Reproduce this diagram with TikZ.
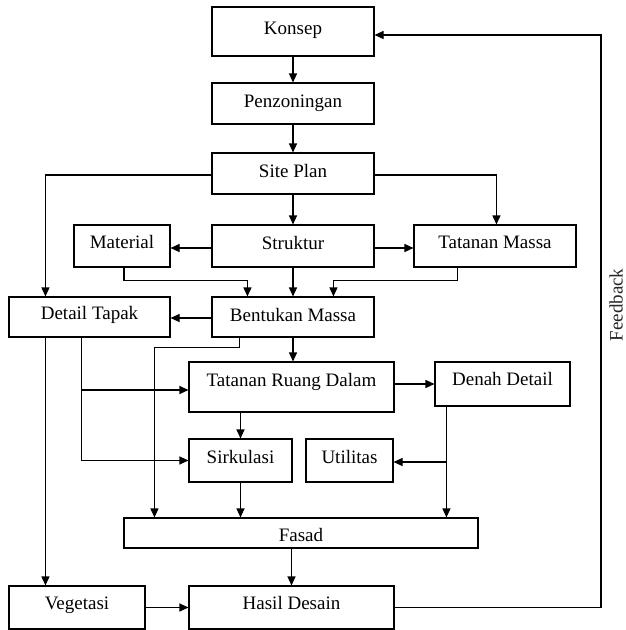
\documentclass[tikz,border=0pt]{standalone}
\usepackage{fontspec}
\setmainfont{Liberation Serif}
\usetikzlibrary{arrows.meta,calc}
\begin{document}
\begin{tikzpicture}[x=1pt,y=-1pt,
  box/.style={draw, line width=1.1pt, inner sep=0pt},
  arr/.style={line width=1.1pt, -{Triangle[length=9pt,width=8pt]}},
  font=\fontsize{19}{21}\selectfont]
\useasboundingbox (0,0) rectangle (626,630);
% boxes
\node[box, minimum width=162pt, minimum height=49pt, label={[yshift=1pt]center:Konsep}] (k) at (293,31.5) {};
\node[box, minimum width=162pt, minimum height=41pt, label={[yshift=0pt]center:Penzoningan}] (pz) at (293,103.5) {};
\node[box, minimum width=162pt, minimum height=41pt, label={[yshift=3pt]center:Site Plan}] (sp) at (293,173.5) {};
\node[box, minimum width=96pt, minimum height=42pt, label={[yshift=4pt]center:Material}] (mat) at (122,246) {};
\node[box, minimum width=162pt, minimum height=42pt, label={[yshift=3pt]center:Struktur}] (st) at (293,246) {};
\node[box, minimum width=162pt, minimum height=42pt, label={[yshift=4pt]center:Tatanan Massa}] (tm) at (495,246) {};
\node[box, minimum width=161pt, minimum height=40pt, label={[yshift=2pt]center:Detail Tapak}] (dt) at (89.5,317) {};
\node[box, minimum width=162pt, minimum height=40pt, label={[yshift=2pt]center:Bentukan Massa}] (bm) at (293,317) {};
\node[box, minimum width=205pt, minimum height=50pt, label={[yshift=5pt]center:Tatanan Ruang Dalam}] (trd) at (291.5,387) {};
\node[box, minimum width=135pt, minimum height=44pt, label={[yshift=5pt]center:Denah Detail}] (dd) at (502.5,384) {};
\node[box, minimum width=103pt, minimum height=43pt, label={[yshift=4pt]center:Sirkulasi}] (sir) at (240.5,460.5) {};
\node[box, minimum width=87pt, minimum height=43pt, label={[yshift=4pt]center:Utilitas}] (ut) at (349.5,460.5) {};
\node[box, minimum width=354pt, minimum height=30pt, label={[yshift=-2pt]center:Fasad}] (fs) at (301,533) {};
\node[box, minimum width=136pt, minimum height=43pt, label={[yshift=2pt]center:Vegetasi}] (veg) at (77,607.5) {};
\node[box, minimum width=205pt, minimum height=43pt, label={[yshift=5pt]center:Hasil Desain}] (hd) at (291.5,607.5) {};
\node[rotate=90, inner sep=0pt, text=black!85] (fbt) at (616,305) {Feedback};
% connectors
\draw[arr] (k.south) -- (pz.north);
\draw[arr] (pz.south) -- (sp.north);
\draw[arr] ([yshift=-1.5pt]sp.west) -| ([xshift=37pt]dt.north west);
\draw[arr] ([yshift=-1.5pt]sp.east) -| ([xshift=83pt]tm.north west);
\draw[arr] (sp.south) -- (st.north);
\draw[arr] ([yshift=-2pt]st.west) -- ([yshift=-2pt]mat.east);
\draw[arr] ([yshift=-2pt]st.east) -- ([yshift=-2pt]tm.west);
\draw[arr] (st.south) -- (bm.north);
\draw[arr] ([xshift=2pt]mat.south) -- ++(0,13) -| ([xshift=36pt]bm.north west);
\draw[arr] ([xshift=44pt]tm.south west) -- ++(0,13) -| ([xshift=122pt]bm.north west);
\draw[arr] ([yshift=-1pt]bm.west) -- ([yshift=-1pt]dt.east);
\draw[arr] (bm.south) -- (bm.south |- trd.north);
\draw[arr] ([xshift=28pt]bm.south west) -- ++(0,10) -| ([xshift=31pt]fs.north west);
\draw[arr] ([xshift=37pt]dt.south west) -- ([xshift=37pt]veg.north west);
\draw[arr] ([xshift=73pt]dt.south west) |- ([yshift=-3pt]trd.west);
\draw[arr] ([xshift=73pt]dt.south west) |- (sir.west);
\draw[arr] (trd.east |- dd.west) -- (dd.west);
\draw[arr] (trd.south -| sir.north) -- (sir.north);
\draw[arr] ([xshift=12pt]dd.south west) |- ([yshift=-1.5pt]ut.east);
\draw[arr] ([xshift=12pt]dd.south west) -- ([xshift=323pt]fs.north west);
\draw[arr] (sir.south) -- (sir.south |- fs.north);
\draw[arr] (fs.south -| hd.north) -- (hd.north);
\draw[arr] (veg.east) -- (hd.west);
\coordinate (fbtop) at (601,35);
\draw[arr] (hd.east) -| (fbtop) -- (k.east |- fbtop);
\end{tikzpicture}
\end{document}
